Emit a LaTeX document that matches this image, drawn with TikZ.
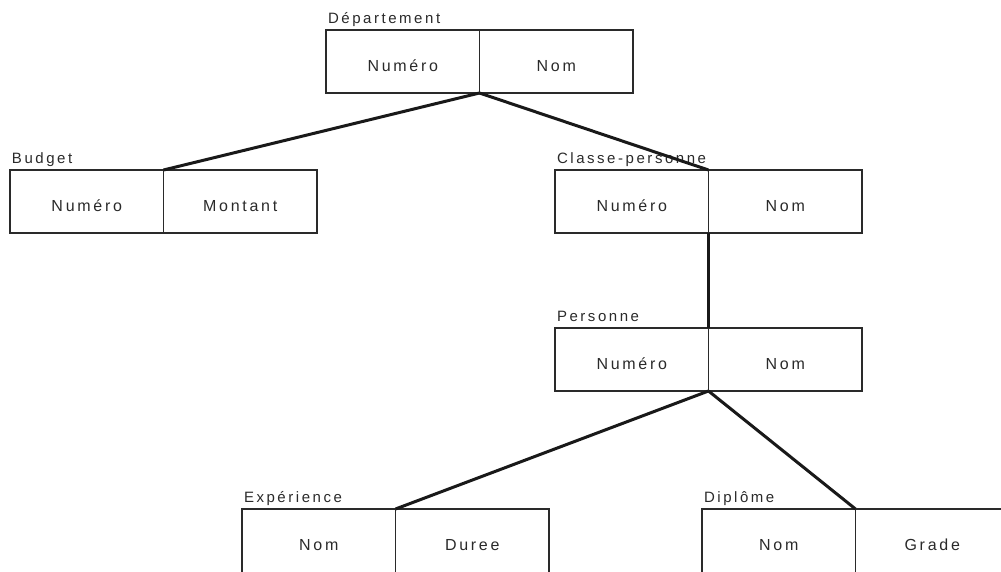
\documentclass[tikz,border=0pt]{standalone}
\usepackage{fontspec}
\setmainfont{Liberation Sans}[LetterSpace=17]
\definecolor{ink}{HTML}{2A2A2A}
\tikzset{
  cell/.style={draw=ink, line width=1.2pt, inner sep=0pt, outer sep=0pt,
    minimum width=153.5pt, text height=41pt, text depth=22pt,
    font=\fontsize{16}{19}\selectfont, text=ink, anchor=north west},
  cutcell/.style={cell, text depth=40pt},
  title/.style={inner sep=0pt, outer sep=0pt, anchor=base west,
    font=\fontsize{15}{18}\selectfont, text=ink},
  link/.style={draw=black!90, line width=3pt}
}
\newcommand\entity[7][cell]{%
  \node[title] (#2l) at (#3+2,#4-7) {#5};
  \node[#1] (#2a) at (#3,#4) {#6};
  \node[#1] (#2b) at (#2a.north east) {#7};
}
\begin{document}
\begin{tikzpicture}[x=1pt,y=-1pt]
\useasboundingbox (0,0) rectangle (1001,571);
\clip (0,0) rectangle (1001,571);
\entity{dep}{326}{30}{Département}{Numéro}{Nom}
\entity{bud}{10}{170}{Budget}{Numéro}{Montant}
\entity{cla}{555}{170}{Classe-personne}{Numéro}{Nom}
\entity{per}{555}{328}{Personne}{Numéro}{Nom}
\entity[cutcell]{exp}{242}{509}{Expérience}{Nom}{Duree}
\entity[cutcell]{dip}{702}{509}{Diplôme}{Nom}{Grade}
\draw[link] (depa.south east) -- (buda.north east);
\draw[link] (depa.south east) -- (claa.north east);
\draw[link] (claa.south east) -- (pera.north east);
\draw[link] (pera.south east) -- (expa.north east);
\draw[link] (pera.south east) -- (dipa.north east);
\end{tikzpicture}
\end{document}
